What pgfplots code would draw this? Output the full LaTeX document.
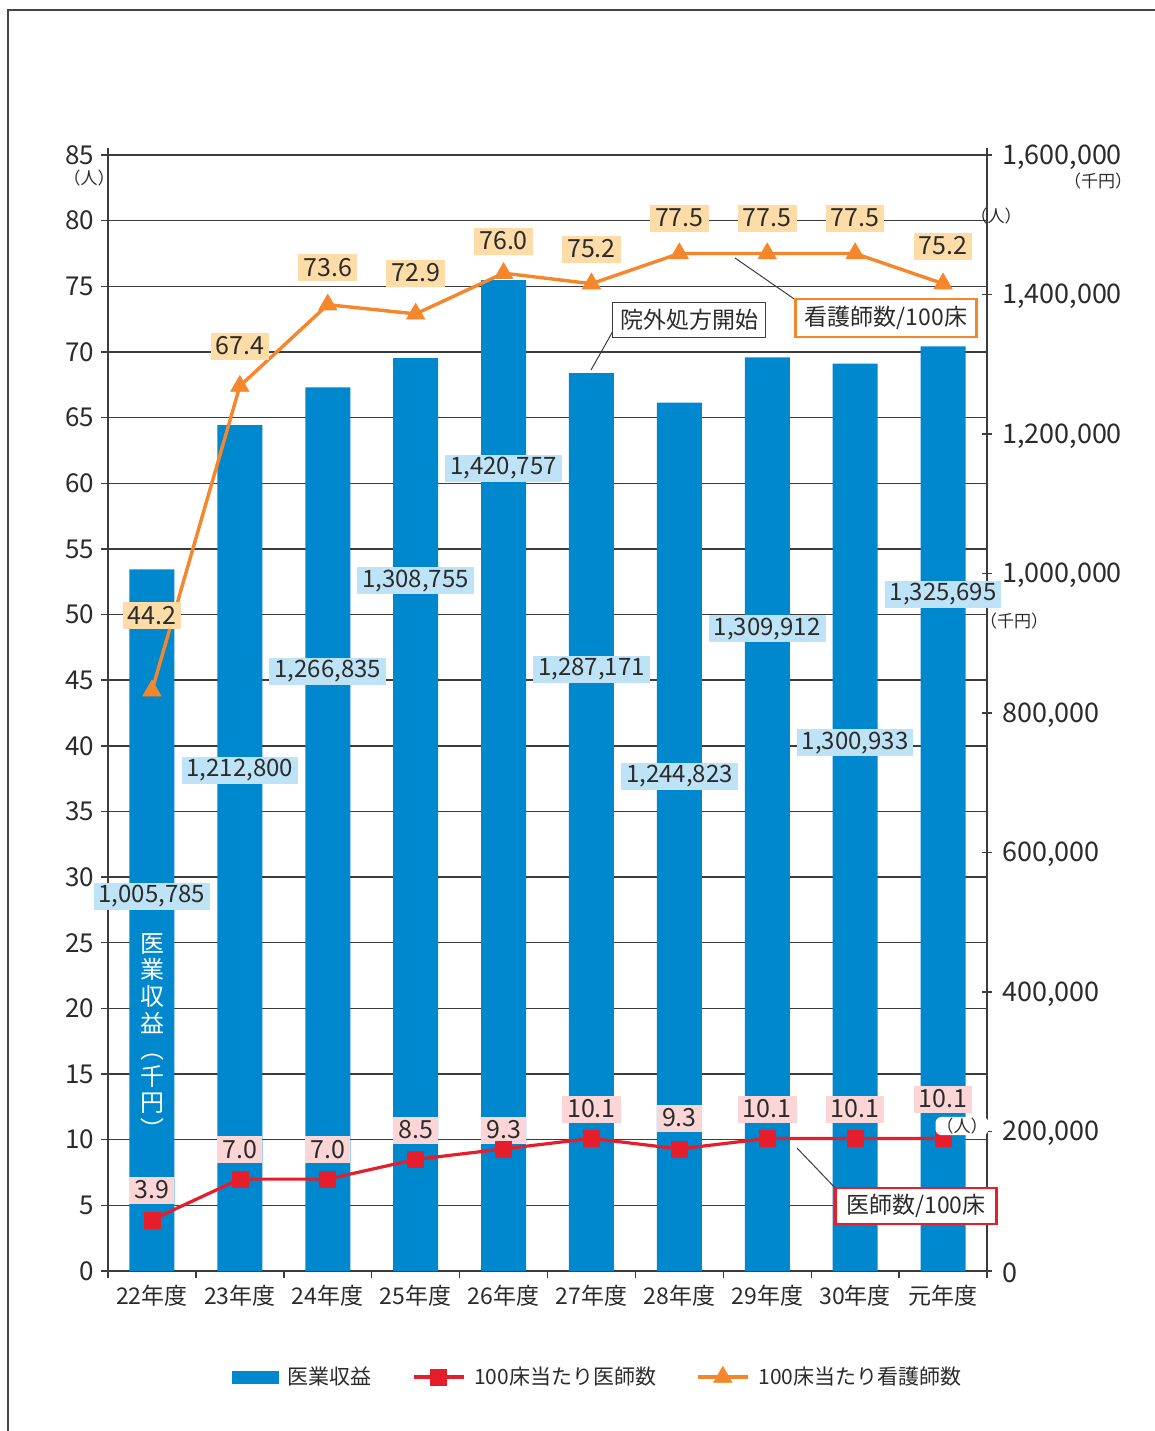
\documentclass[border=0pt]{standalone}
\usepackage{fontspec}
\setmainfont{Noto Sans CJK JP}
\usepackage{graphicx}
\usepackage{pgfplots}
\pgfplotsset{compat=1.18}
\definecolor{barblue}{HTML}{0088CE}
\definecolor{docred}{HTML}{E61E2B}
\definecolor{nurorange}{HTML}{F5862B}
\definecolor{lblue}{HTML}{BEE3F7}
\definecolor{lorange}{HTML}{FDDCA8}
\definecolor{lpink}{HTML}{FCD6D6}
\definecolor{txt}{HTML}{2B2B2B}
\definecolor{gridc}{HTML}{3C3C3C}
\definecolor{framec}{HTML}{444444}

\pgfplotsset{
  base/.style={at={(54pt,-635.5pt)}, anchor=south west, width=439.5pt, height=558pt,
    scale only axis, xmin=-0.5, xmax=9.5, clip=false},
}
\tikzset{
  revl/.style={fill=lblue, text=txt, font=\fontsize{12}{12}\selectfont, inner xsep=2.5pt, inner ysep=0pt, minimum height=13.5pt},
  nurl/.style={fill=lorange, text=txt, font=\fontsize{12.5}{12.5}\selectfont, inner xsep=2.5pt, inner ysep=0pt, minimum height=13.5pt},
  docl/.style={fill=lpink, text=txt, font=\fontsize{12.5}{12.5}\selectfont, inner xsep=2.5pt, inner ysep=0pt, minimum height=13.5pt, minimum width=22.5pt},
  unit/.style={font=\fontsize{8.5}{8.5}\selectfont, inner sep=0.5pt},
}
\begin{document}
\begin{tikzpicture}[every node/.append style={text=txt}]
\useasboundingbox (0pt,0pt) rectangle (577.5pt,-715.5pt);
\draw[framec, line width=1pt] (4pt,-716pt) -- (4pt,-5pt) -- (578pt,-5pt);

% axis 1: left axis, grid, x labels
\begin{axis}[base, ymin=0, ymax=85,
  axis x line*=bottom, axis y line*=left,
  xtick={-0.5,0.5,1.5,2.5,3.5,4.5,5.5,6.5,7.5,8.5,9.5}, x tick label as interval,
  xticklabels={22年度,23年度,24年度,25年度,26年度,27年度,28年度,29年度,30年度,元年度},
  ytick={0,5,...,85},
  ymajorgrids, grid style={gridc, line width=0.7pt},
  axis line style={gridc, line width=0.7pt},
  y axis line style={shorten >=-3.5pt},
  tick style={gridc, line width=0.7pt},
  tick align=outside, major tick length=3.5pt,
  yticklabel style={font=\fontsize{13}{13}\selectfont, text=txt},
  xticklabel style={font=\fontsize{11.5}{11.5}\selectfont, text=txt},
  /pgf/number format/assume math mode=true,
]
\end{axis}

% axis 2: bars, right axis
\begin{axis}[base, ymin=0, ymax=1600000,
  axis x line=none, axis y line*=right,
  ytick={0,200000,400000,600000,800000,1000000,1200000,1400000,1600000},
  scaled y ticks=false,
  axis line style={gridc, line width=0.7pt},
  y axis line style={shorten >=-3.5pt},
  tick style={gridc, line width=0.7pt},
  tick align=center, major tick length=5pt,
  yticklabel style={font=\fontsize{13.5}{13.5}\selectfont, text=txt, xshift=1.5pt, yshift=-1pt,
    /pgf/number format/.cd, fixed, 1000 sep={,}, assume math mode=true},
]
\addplot[ybar, bar width=22.5pt, bar shift=0pt, fill=barblue, draw=none] coordinates {
(0,1005785) (1,1212800) (2,1266835) (3,1308755) (4,1420757)
(5,1287171) (6,1244823) (7,1309912) (8,1300933) (9,1325695)};
\end{axis}

% axis 3: lines, labels, legend
\begin{axis}[base, ymin=0, ymax=85, axis lines=none,
  legend style={at={(0.5584,-0.095)}, anchor=center, draw=none, fill=none,
    font=\fontsize{10.5}{10.5}\selectfont, legend columns=3,
    /tikz/every odd column/.append style={column sep=2.5pt},
    /tikz/every even column/.append style={column sep=18pt}},
  legend cell align=left,
  legend image code/.code={\draw[mark repeat=2,mark phase=2] plot coordinates {(0pt,0pt) (12.5pt,0pt) (25pt,0pt)};},
]
\addlegendimage{legend image code/.code={\fill[barblue] (0pt,-3pt) rectangle (23pt,3pt);}}
\addlegendentry{医業収益}
\addplot[docred, line width=1.6pt, mark=square*, mark size=4pt, mark options={solid, line width=0.3pt}] coordinates {
(0,3.9) (1,7.0) (2,7.0) (3,8.5) (4,9.3) (5,10.1) (6,9.3) (7,10.1) (8,10.1) (9,10.1)};
\addlegendentry{100床当たり医師数}
\addplot[nurorange, line width=1.7pt, mark=triangle*, mark size=5.3pt, mark options={solid, line width=0.3pt}] coordinates {
(0,44.2) (1,67.4) (2,73.6) (3,72.9) (4,76.0) (5,75.2) (6,77.5) (7,77.5) (8,77.5) (9,75.2)};
\addlegendentry{100床当たり看護師数}

\node[revl] at (axis cs:0,28.56) {1,005,785};
\node[revl] at (axis cs:1,38.16) {1,212,800};
\node[revl] at (axis cs:2,45.70) {1,266,835};
\node[revl] at (axis cs:3,52.56) {1,308,755};
\node[revl] at (axis cs:4,61.16) {1,420,757};
\node[revl] at (axis cs:5,45.85) {1,287,171};
\node[revl] at (axis cs:6,37.70) {1,244,823};
\node[revl] at (axis cs:7,48.90) {1,309,912};
\node[revl] at (axis cs:8,40.22) {1,300,933};
\node[revl] at (axis cs:9,51.56) {1,325,695};

\node[nurl] at (axis cs:0,49.89) {44.2};
\node[nurl] at (axis cs:1,70.45) {67.4};
\node[nurl] at (axis cs:2,76.40) {73.6};
\node[nurl] at (axis cs:3,76.01) {72.9};
\node[nurl] at (axis cs:4,78.45) {76.0};
\node[nurl] at (axis cs:5,77.84) {75.2};
\node[nurl] at (axis cs:6,80.2) {77.5};
\node[nurl] at (axis cs:7,80.2) {77.5};
\node[nurl] at (axis cs:8,80.2) {77.5};
\node[nurl] at (axis cs:9,78.07) {75.2};

\node[docl] at (axis cs:0,6.17) {3.9};
\node[docl] at (axis cs:1,9.22) {7.0};
\node[docl] at (axis cs:2,9.22) {7.0};
\node[docl] at (axis cs:3,10.74) {8.5};
\node[docl] at (axis cs:4,10.74) {9.3};
\node[docl] at (axis cs:5,12.34) {10.1};
\node[docl] at (axis cs:6,11.65) {9.3};
\node[docl] at (axis cs:7,12.34) {10.1};
\node[docl] at (axis cs:8,12.34) {10.1};
\node[docl] at (axis cs:9,13.10) {10.1};
\end{axis}

\begin{scope}[x=0.5pt,y=-0.5pt]
\draw[gridc, line width=0.5pt] (591,370) -- (613,331);
\node[draw=gridc, line width=0.6pt, fill=white, minimum width=76.5pt, minimum height=17.5pt, inner sep=0pt, font=\fontsize{11.5}{11.5}\selectfont] at (689,320) {院外処方開始};
\draw[gridc, line width=0.5pt] (735,258) -- (800,303);
\node[draw=nurorange, line width=1.1pt, fill=white, minimum width=90.5pt, minimum height=19pt, inner sep=0pt, font=\fontsize{11.5}{11.5}\selectfont] at (886,318) {看護師数/100床};
\draw[gridc, line width=0.5pt] (797,1148) -- (840,1193);
\node[draw=docred, line width=1.1pt, fill=white, minimum width=80.5pt, minimum height=18pt, inner sep=0pt, font=\fontsize{11.5}{11.5}\selectfont] at (916,1206) {医師数/100床};

\node[unit] at (89,178) {（人）};
\node[unit] at (1098,181) {（千円）};
\node[unit] at (1014,621) {（千円）};
\node[unit] at (996,216) {（人）};
\node[unit, fill=white, rounded corners=3pt] at (962,1126) {（人）};

\node[text=white, align=center, font=\fontsize{12}{13.3}\selectfont] at (152,1036) {医\\業\\収\\益\\︵\\千\\円\\︶};
\end{scope}
\end{tikzpicture}
\end{document}
